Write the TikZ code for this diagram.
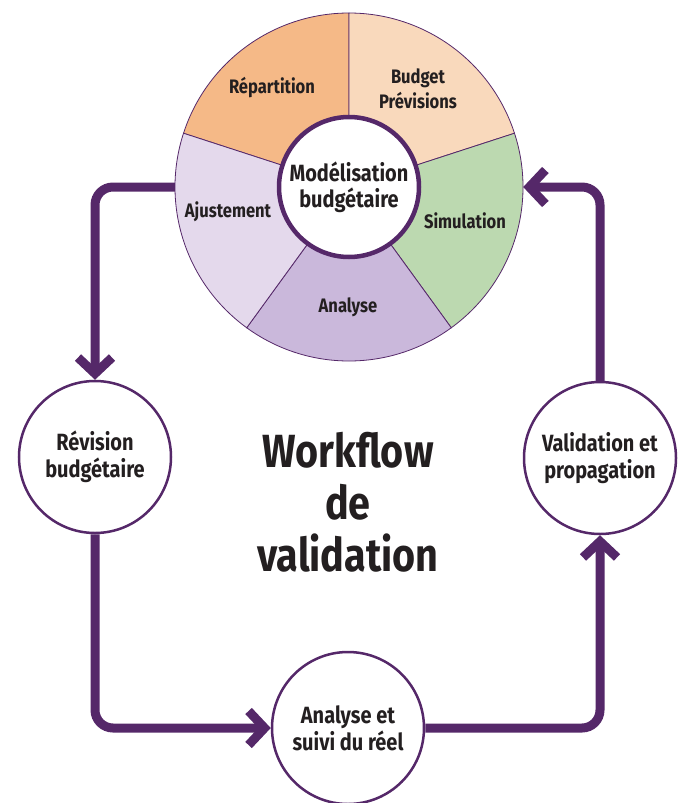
\documentclass[tikz,border=0pt]{standalone}
\usepackage{fontspec}
\setmainfont{Fira Sans}[FakeStretch=0.85]
\usepackage{tikz}
\usetikzlibrary{arrows.meta}
\definecolor{wfpurple}{RGB}{85,40,105}
\definecolor{wftext}{RGB}{35,31,32}
\definecolor{wfrep}{RGB}{245,185,135}
\definecolor{wfbud}{RGB}{249,217,188}
\definecolor{wfsim}{RGB}{188,217,176}
\definecolor{wfana}{RGB}{202,184,219}
\definecolor{wfaju}{RGB}{228,217,236}
\tikzstyle{stage}=[circle, draw=wfpurple, line width=2.5pt, fill=white, minimum size=152pt, inner sep=0pt, align=center, text=wftext, font=\bfseries\fontsize{23.5}{27}\selectfont]
\tikzstyle{hub}=[circle, draw=wfpurple, line width=4.5pt, fill=white, minimum size=140pt, inner sep=0pt, align=center, text=wftext, font=\bfseries\fontsize{23.5}{26}\selectfont]
\tikzstyle{sector}=[align=center, text=wftext, font=\bfseries\fontsize{19.5}{25}\selectfont]
\tikzstyle{slice}=[draw=wfpurple, line width=0.8pt]
\tikzstyle{flow}=[draw=wfpurple, line width=9pt, rounded corners=18pt, -{Straight Barb[length=16pt, width=34pt, sharp]}]

\begin{document}
\begin{tikzpicture}[x=1pt, y=1pt]
	   \useasboundingbox (0,0) rectangle (683,-803);
		   \begin{scope}
			   \node (0) at (349,-187)[circle, minimum size=348pt, inner sep=0pt] {};
			   \foreach \a/\col in {90/wfrep, 18/wfbud, -54/wfsim, -126/wfana, 162/wfaju}
			   \filldraw [slice, fill=\col] (0.center) -- ++(\a:174) arc[start angle=\a, delta angle=72, radius=174] -- cycle;
			   \node (hub) at (0.center)[hub] {Modélisation\\budgétaire};
			   \node (rep) at (272,-88)[sector] {Répartition};
			   \node (bud) at (418,-89)[sector] {Budget\\Prévisions};
			   \node (sim) at (465,-221)[sector] {Simulation};
			   \node (anl) at (348,-307)[sector] {Analyse};
			   \node (aju) at (228,-212)[sector] {Ajustement};
		   \end{scope}
		   \begin{scope}
			   \node (1) at (95,-457)[stage] {Révision\\budgétaire};
			   \node (2) at (348,-728)[stage] {Analyse et\\suivi du réel};
			   \node (3) at (600,-458)[stage] {Validation et\\propagation};
			   \node (title) at (348,-502)[align=center, text=wftext, font=\bfseries\fontsize{46.5}{52}\selectfont] {Workflow\\de\\validation};
		   \end{scope}
		   \begin{scope}
			   \draw [flow] (0.west) -| (1.north);
			   \draw [flow] (1.south) |- (2.west);
			   \draw [flow] (2.east) -| (3.south);
			   \draw [flow] (3.north) |- (0.east);
		   \end{scope}
	   \end{tikzpicture}
\end{document}
